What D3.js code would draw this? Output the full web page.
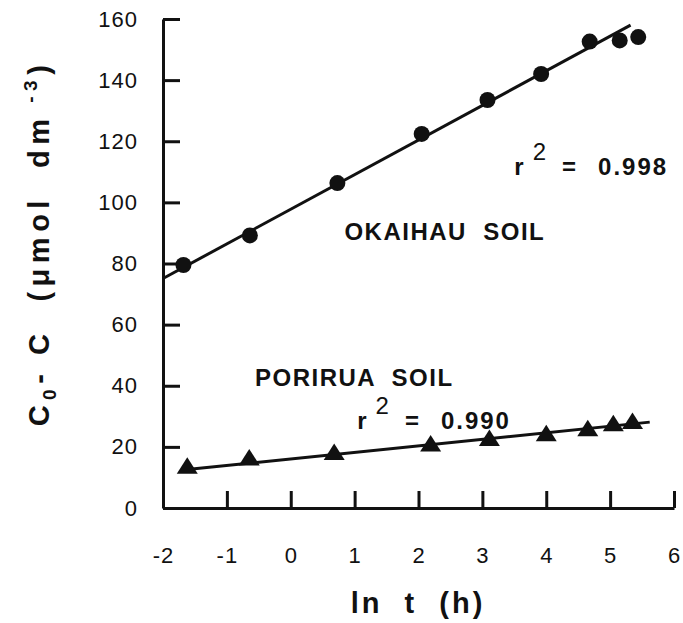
<!DOCTYPE html>
<html>
<head>
<meta charset="utf-8">
<script src="https://cdn.jsdelivr.net/npm/d3@7"></script>
<style>
  body { margin: 0; background: #fff; }
  svg { display: block; font-family: "Liberation Sans", Arial, Helvetica, sans-serif; }
</style>
</head>
<body>
<div id="chart"></div>
<script>
// values (ln t in hours, C0 - C in umol dm-3)
const lnTOkaihau = [-1.68, -0.64, 0.73, 2.05, 3.08, 3.92, 4.68, 5.15, 5.44];
const okaihau = [79.5, 89.2, 106.3, 122.4, 133.5, 142.0, 152.6, 153.0, 154.1];
const lnTPorirua = [-1.62, -0.65, 0.68, 2.19, 3.11, 4.0, 4.65, 5.05, 5.35];
const porirua = [13.7, 16.4, 18.2, 20.9, 22.7, 24.3, 25.9, 27.6, 28.3];

// fitted lines, end points [ln t, value]
const okaihauFit = [[-2, 75.1], [5.32, 158.0]];
const poriruaFit = [[-1.7, 12.4], [5.62, 28.1]];

const xTicks = [-2, -1, 0, 1, 2, 3, 4, 5, 6];
const yTicks = [0, 20, 40, 60, 80, 100, 120, 140, 160];

const WIDTH = 683, HEIGHT = 623;

const svg = d3.select("#chart").append("svg")
  .attr("width", WIDTH)
  .attr("height", HEIGHT);

const x = d3.scaleLinear().domain([-2, 6]).range([163, 674]);
const y = d3.scaleLinear().domain([0, 160]).range([508, 19]);

/* ------- AXES ------- */
const xAxis = svg.append("g")
  .attr("transform", `translate(0, ${y(0)})`)
  .call(d3.axisBottom(x).tickValues(xTicks).tickSize(-17).tickSizeOuter(0).tickPadding(39));

const yAxis = svg.append("g")
  .attr("transform", `translate(${x(-2)}, 0)`)
  .call(d3.axisLeft(y).tickValues(yTicks).tickSize(-17).tickSizeOuter(0).tickPadding(25));

[xAxis, yAxis].forEach(function (g) {
  g.select(".domain").attr("stroke", "#111").attr("stroke-width", 3);
  g.selectAll(".tick line").attr("stroke", "#111").attr("stroke-width", 3);
  g.selectAll(".tick text")
    .attr("fill", "#111")
    .style("font-size", "22px")
    .style("letter-spacing", "1px");
});
xAxis.selectAll(".tick text").text((d) => d);

/* ------- AXIS TITLES ------- */
svg.append("text")
  .attr("x", 418)
  .attr("y", 613)
  .attr("text-anchor", "middle")
  .style("white-space", "pre")
  .style("font-size", "29px")
  .style("font-weight", "bold")
  .style("letter-spacing", "3px")
  .attr("fill", "#111")
  .text("ln  t  (h)");

const yTitle = svg.append("text")
  .attr("transform", "translate(49, 243) rotate(-90)")
  .attr("text-anchor", "middle")
  .style("white-space", "pre")
  .style("font-size", "29px")
  .style("font-weight", "bold")
  .style("letter-spacing", "5.5px")
  .attr("fill", "#111");
yTitle.append("tspan").text("C");
yTitle.append("tspan").attr("dy", 7).style("font-size", "19px").text("0");
yTitle.append("tspan").attr("dy", -7).text("- C  (\u03bcmol  dm");
yTitle.append("tspan").attr("dy", -12).style("font-size", "19px").text(" -3");
yTitle.append("tspan").attr("dy", 12).text(")");

/* ------- FIT LINES ------- */
const line = d3.line().x((d) => x(d[0])).y((d) => y(d[1]));

svg.append("path")
  .attr("d", line(okaihauFit))
  .attr("fill", "none")
  .attr("stroke", "#111")
  .attr("stroke-width", 3);

svg.append("path")
  .attr("d", line(poriruaFit))
  .attr("fill", "none")
  .attr("stroke", "#111")
  .attr("stroke-width", 3);

/* ------- POINTS ------- */
svg.append("g").selectAll("circle")
  .data(okaihau)
  .enter()
  .append("circle")
  .attr("cx", (d, i) => x(lnTOkaihau[i]))
  .attr("cy", (d) => y(d))
  .attr("r", 8)
  .attr("fill", "#111");

// triangles ~20px wide, 16px tall
function triangle(cx, cy) {
  const p = d3.path();
  p.moveTo(cx, cy - 9);
  p.lineTo(cx + 10.5, cy + 7.5);
  p.lineTo(cx - 10.5, cy + 7.5);
  p.closePath();
  return p.toString();
}

svg.append("g").selectAll("path")
  .data(porirua)
  .enter()
  .append("path")
  .attr("d", (d, i) => triangle(x(lnTPorirua[i]), y(d)))
  .attr("fill", "#111");

/* ------- LABELS ------- */
function label(tx, ty, str) {
  return svg.append("text")
    .attr("x", x(tx))
    .attr("y", y(ty))
    .style("white-space", "pre")
    .style("font-size", "24px")
    .style("font-weight", "bold")
    .style("letter-spacing", "1.5px")
    .attr("fill", "#111")
    .text(str);
}

label(0.84, 87.6, "OKAIHAU  SOIL");
label(-0.56, 40, "PORIRUA  SOIL");

// r^2 annotation, pieces spaced out like the original typewriter layout
function rLabel(tx, ty, val) {
  const t = svg.append("text")
    .attr("x", x(tx))
    .attr("y", y(ty))
    .style("font-size", "24px")
    .style("font-weight", "bold")
    .style("letter-spacing", "2px")
    .attr("fill", "#111");
  t.append("tspan").text("r");
  t.append("tspan").attr("dx", 7).attr("dy", -15).style("font-weight", "normal").text("2");
  t.append("tspan").attr("dx", 14).attr("dy", 15).text("=");
  t.append("tspan").attr("dx", 20).text(val);
}

rLabel(3.5, 108.8, "0.998");
rLabel(1.04, 25.8, "0.990");
</script>
</body>
</html>
